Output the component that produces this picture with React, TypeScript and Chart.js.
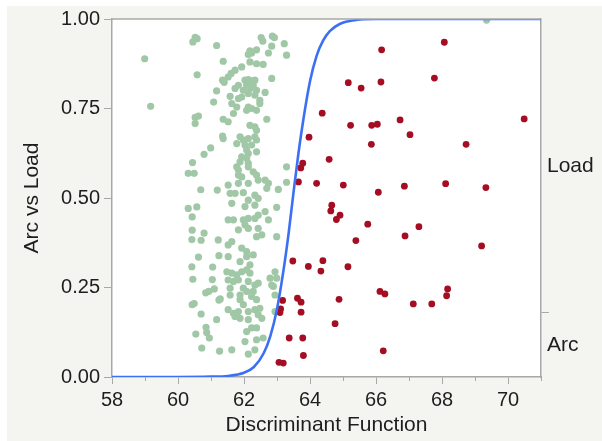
import { useEffect, useRef } from 'react';
import { Chart, registerables } from 'chart.js';

Chart.register(...registerables);

// Arc (green) observations: discriminant function value and jittered probability position
const arcX = [
  58.99, 59.17, 60.52, 60.45, 60.58, 61.17, 61.37, 60.58, 61.35, 61.17, 61.08, 60.52, 60.62, 60.52, 61.37, 61.35,
  60.99, 60.79, 60.44, 60.31, 60.49, 60.69, 61.19, 60.31, 60.57, 60.43, 60.43, 60.79, 60.42, 60.70, 61.22, 60.62,
  61.24, 60.42, 61.05, 60.45, 61.04, 60.84, 60.93, 61.10, 60.43, 60.49, 61.24, 61.28, 60.70, 60.85, 60.54, 60.87,
  60.95, 60.72, 61.26, 62.52, 62.57, 62.86, 62.92, 62.84, 63.22, 63.29, 62.18, 62.23, 62.38, 62.13, 62.74, 62.18,
  62.38, 62.58, 61.93, 61.73, 61.61, 61.52, 61.40, 62.84, 62.03, 62.13, 62.23, 62.33, 62.08, 62.28, 62.18, 62.38,
  61.98, 61.83, 61.73, 62.13, 62.33, 62.64, 61.93, 61.83, 61.58, 62.48, 61.63, 61.78, 62.13, 62.23, 62.08, 62.38,
  62.48, 61.68, 62.69, 61.52, 62.18, 62.33, 62.38, 61.37, 61.88, 61.98, 62.13, 62.33, 62.38, 61.78, 62.03, 62.23,
  62.08, 62.13, 62.38, 61.93, 62.08, 61.88, 62.13, 61.78, 61.83, 62.13, 63.29, 61.83, 61.93, 62.28, 62.38, 62.43,
  61.83, 62.13, 62.64, 62.74, 62.69, 63.04, 63.29, 61.52, 61.58, 61.73, 61.98, 62.33, 62.43, 62.13, 61.63, 62.03,
  62.33, 62.99, 62.64, 61.52, 61.68, 61.98, 62.13, 62.33, 62.43, 62.74, 61.83, 62.13, 62.43, 62.03, 62.38, 62.54,
  62.99, 61.52, 61.63, 61.93, 62.08, 61.52, 62.08, 62.28, 61.88, 62.18, 61.48, 61.63, 61.78, 61.93, 62.08, 62.18,
  62.94, 62.79, 62.99, 61.52, 61.68, 61.83, 62.13, 62.33, 62.43, 61.58, 61.98, 62.08, 62.28, 62.84, 62.89, 61.58,
  61.88, 62.23, 62.94, 61.88, 62.38, 61.98, 61.52, 61.68, 61.83, 62.13, 62.33, 62.48, 61.73, 61.88, 62.13, 62.43,
  62.54, 62.94, 61.17, 62.23, 62.38, 62.08, 62.03, 62.38, 62.58, 61.63, 62.13, 62.33, 69.35,
];
const arcY = [
  0.889, 0.756, 0.949, 0.936, 0.945, 0.926, 0.882, 0.844, 0.829, 0.799, 0.768, 0.725, 0.729, 0.708, 0.720, 0.673,
  0.640, 0.622, 0.599, 0.569, 0.569, 0.523, 0.522, 0.471, 0.475, 0.447, 0.410, 0.402, 0.384, 0.382, 0.383, 0.335,
  0.339, 0.308, 0.307, 0.273, 0.272, 0.235, 0.239, 0.246, 0.202, 0.205, 0.215, 0.218, 0.176, 0.139, 0.120, 0.124,
  0.109, 0.081, 0.072, 0.948, 0.938, 0.952, 0.948, 0.924, 0.931, 0.899, 0.911, 0.905, 0.914, 0.901, 0.905, 0.880,
  0.875, 0.873, 0.866, 0.857, 0.848, 0.838, 0.823, 0.834, 0.829, 0.831, 0.827, 0.829, 0.815, 0.815, 0.806, 0.801,
  0.801, 0.815, 0.806, 0.792, 0.787, 0.795, 0.782, 0.778, 0.784, 0.773, 0.764, 0.754, 0.754, 0.750, 0.745, 0.745,
  0.764, 0.736, 0.720, 0.713, 0.703, 0.699, 0.689, 0.666, 0.671, 0.662, 0.666, 0.671, 0.662, 0.652, 0.648, 0.648,
  0.634, 0.624, 0.629, 0.615, 0.611, 0.601, 0.597, 0.587, 0.578, 0.587, 0.587, 0.564, 0.559, 0.573, 0.564, 0.550,
  0.541, 0.541, 0.550, 0.541, 0.527, 0.524, 0.544, 0.536, 0.513, 0.513, 0.515, 0.508, 0.499, 0.494, 0.485, 0.476,
  0.480, 0.474, 0.462, 0.439, 0.439, 0.439, 0.443, 0.443, 0.452, 0.439, 0.411, 0.415, 0.415, 0.425, 0.392, 0.397,
  0.392, 0.369, 0.378, 0.360, 0.350, 0.336, 0.336, 0.341, 0.322, 0.313, 0.294, 0.290, 0.285, 0.294, 0.299, 0.290,
  0.294, 0.276, 0.276, 0.271, 0.267, 0.271, 0.267, 0.257, 0.262, 0.248, 0.248, 0.239, 0.239, 0.257, 0.253, 0.229,
  0.229, 0.225, 0.229, 0.216, 0.216, 0.202, 0.188, 0.178, 0.183, 0.183, 0.188, 0.192, 0.169, 0.164, 0.160, 0.174,
  0.164, 0.183, 0.160, 0.137, 0.137, 0.127, 0.099, 0.104, 0.109, 0.076, 0.064, 0.076, 0.997,
];

// Load (red) observations
const loadX = [
  66.17, 68.07, 65.16, 65.55, 66.15, 67.77, 64.37, 65.23, 65.87, 66.04, 66.73, 67.03, 70.49, 63.97, 65.86, 68.73,
  63.78, 63.72, 64.58, 63.65, 64.20, 65.01, 66.07, 66.86, 68.11, 69.33, 64.66, 64.63, 64.91, 64.80, 65.75, 67.30,
  65.39, 66.88, 69.20, 63.48, 63.95, 64.39, 64.33, 65.15, 63.17, 63.11, 63.09, 63.62, 63.73, 63.73, 64.88, 64.76,
  66.12, 66.27, 67.13, 67.69, 68.17, 68.14, 63.37, 63.78, 63.80, 66.22, 63.06, 63.19,
];
const loadY = [
  0.914, 0.935, 0.822, 0.807, 0.824, 0.835, 0.737, 0.703, 0.703, 0.706, 0.718, 0.677, 0.721, 0.670, 0.650, 0.650,
  0.597, 0.584, 0.608, 0.545, 0.541, 0.536, 0.516, 0.533, 0.540, 0.529, 0.480, 0.464, 0.452, 0.440, 0.427, 0.420,
  0.381, 0.394, 0.366, 0.324, 0.309, 0.325, 0.296, 0.308, 0.214, 0.190, 0.180, 0.220, 0.209, 0.181, 0.217, 0.149,
  0.239, 0.232, 0.204, 0.204, 0.246, 0.227, 0.109, 0.109, 0.060, 0.073, 0.041, 0.039,
];

// Fitted probability curve
const curveX = [58, 60, 61, 61.5, 62.0, 62.3, 62.6, 62.8, 63.0, 63.2, 63.35, 63.5, 63.65, 63.8, 64.0, 64.2, 64.4, 64.6, 64.9, 65.3, 66, 71];
const curveY = [0, 0, 0.001, 0.003, 0.012, 0.028, 0.067, 0.115, 0.19, 0.3, 0.4, 0.515, 0.625, 0.72, 0.826, 0.897, 0.94, 0.966, 0.986, 0.996, 1.0, 1.0];

// Axis ticks
const xTickValues = [58, 59, 60, 61, 62, 63, 64, 65, 66, 67, 68, 69, 70, 71];
const xTickLabels = ['58', '', '60', '', '62', '', '64', '', '66', '', '68', '', '70', ''];
const yTickValues = [0, 0.25, 0.5, 0.75, 1];
const yTickLabels = ['0.00', '0.25', '0.50', '0.75', '1.00'];
const rightTickValues = [0.09, 0.181, 0.59];
const rightTickLabels = ['Arc', '', 'Load'];

const FONT = "'Liberation Sans', Arial, Helvetica, sans-serif";
const AXIS = '#a8a8a8';
const TEXT = '#1e1e1e';

const panelPlugin = {
  id: 'panel',
  beforeDraw(chart: any) {
    const { ctx, chartArea: a, width, height } = chart;
    ctx.save();
    ctx.fillStyle = '#ffffff';
    ctx.fillRect(0, 0, width, height);
    ctx.fillStyle = '#f4f4f0';
    ctx.fillRect(7, 6, width - 7, height - 6);
    ctx.fillStyle = '#ffffff';
    ctx.fillRect(a.left, a.top, a.right - a.left, a.bottom - a.top);
    ctx.restore();
  },
  afterDraw(chart: any) {
    const { ctx, chartArea: a } = chart;
    const xs = chart.scales.x;
    ctx.save();
    ctx.strokeStyle = AXIS;
    ctx.lineWidth = 1.5;
    ctx.beginPath();
    ctx.moveTo(a.left, a.top);
    ctx.lineTo(a.right, a.top);
    ctx.stroke();
    ctx.lineWidth = 1;
    xTickValues.forEach((v, i) => {
      if (xTickLabels[i] === '') {
        const px = Math.round(xs.getPixelForValue(v)) + 0.5;
        ctx.beginPath();
        ctx.moveTo(px, a.bottom);
        ctx.lineTo(px, a.bottom + 4);
        ctx.stroke();
      }
    });
    ctx.restore();
  },
};

export default function App() {
  const ref = useRef<HTMLCanvasElement | null>(null);

  useEffect(() => {
    if (!ref.current) return;
    const chart = new Chart(ref.current, {
      type: 'scatter',
      data: {
        datasets: [
          {
            label: 'Fit',
            data: curveX.map((x, i) => ({ x, y: curveY[i] })),
            showLine: true,
            borderColor: '#3c70f4',
            borderWidth: 2.6,
            pointRadius: 0,
            cubicInterpolationMode: 'monotone',
            order: 0,
          } as any,
          {
            label: 'Load',
            data: loadX.map((x, i) => ({ x, y: loadY[i] })),
            backgroundColor: '#a50e22',
            borderWidth: 0,
            pointRadius: 3.4,
            order: 1,
          },
          {
            label: 'Arc',
            data: arcX.map((x, i) => ({ x, y: arcY[i] })),
            backgroundColor: '#a1c8a6',
            borderWidth: 0,
            pointRadius: 3.6,
            order: 2,
          },
        ],
      },
      options: {
        animation: false,
        responsive: false,
        maintainAspectRatio: false,
        layout: { padding: { top: 19, left: 0, right: 0, bottom: 0 } },
        plugins: { legend: { display: false }, tooltip: { enabled: false } },
        scales: {
          x: {
            type: 'linear',
            min: 58,
            max: 71,
            afterFit: (s: any) => { s.height = 64; },
            afterBuildTicks: (s: any) => { s.ticks = xTickValues.map((value) => ({ value })); },
            border: { color: AXIS, width: 1.5 },
            grid: {
              drawOnChartArea: false,
              tickLength: 7,
              tickColor: (c: any) => (xTickLabels[c.index] ? AXIS : 'rgba(0,0,0,0)'),
            },
            ticks: {
              autoSkip: false,
              maxRotation: 0,
              padding: 4,
              color: TEXT,
              font: { family: FONT, size: 20 },
              callback: (_v: any, i: number) => xTickLabels[i],
            },
            title: {
              display: true,
              text: 'Discriminant Function',
              color: TEXT,
              font: { family: FONT, size: 21 },
              padding: { top: 0, bottom: 3 },
            },
          },
          y: {
            type: 'linear',
            position: 'left',
            min: 0,
            max: 1,
            afterFit: (s: any) => { s.width = 112; },
            afterBuildTicks: (s: any) => { s.ticks = yTickValues.map((value) => ({ value })); },
            border: { color: AXIS, width: 1.5 },
            grid: { drawOnChartArea: false, tickLength: 8, tickColor: AXIS },
            ticks: {
              padding: 4,
              color: TEXT,
              font: { family: FONT, size: 20 },
              callback: (_v: any, i: number) => yTickLabels[i],
            },
            title: {
              display: true,
              text: 'Arc vs Load',
              color: TEXT,
              font: { family: FONT, size: 21 },
              padding: { top: 20, bottom: 0 },
            },
          },
          y2: {
            type: 'linear',
            position: 'right',
            min: 0,
            max: 1,
            afterFit: (s: any) => { s.width = 61; },
            afterBuildTicks: (s: any) => { s.ticks = rightTickValues.map((value) => ({ value })); },
            border: { color: AXIS, width: 1.5 },
            grid: {
              drawOnChartArea: false,
              tickLength: 8,
              tickColor: (c: any) => (rightTickLabels[c.index] === '' ? AXIS : 'rgba(0,0,0,0)'),
            },
            ticks: {
              padding: -2,
              color: TEXT,
              font: { family: FONT, size: 21 },
              callback: (_v: any, i: number) => rightTickLabels[i],
            },
          },
        },
      } as any,
      plugins: [panelPlugin],
    });
    return () => chart.destroy();
  }, []);

  return (
    <div style={{ position: 'fixed', left: 0, top: 0, width: 602, height: 441 }}>
      <canvas ref={ref} width={602} height={441} style={{ width: 602, height: 441, display: 'block' }} />
    </div>
  );
}
